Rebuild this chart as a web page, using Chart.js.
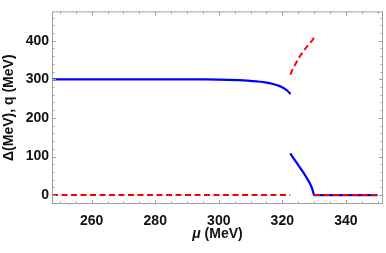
<!DOCTYPE html>
<html>
<head>
<meta charset="utf-8">
<script src="https://cdn.jsdelivr.net/npm/chart.js@4.4.1/dist/chart.umd.min.js"></script>
<style>
  html, body { margin: 0; padding: 0; background: #fff; }
  #wrap { width: 386px; height: 253px; }
</style>
</head>
<body>
<div id="wrap"><canvas id="chart" width="386" height="253"></canvas></div>
<script>
// gap Delta, upper branch
const deltaUpMu  = [247.5, 290, 295, 300, 303, 306, 309, 312, 315, 317, 319, 320.5, 321.5, 322.6];
const deltaUpVal = [300, 300, 299.8, 299.4, 298.8, 297.8, 296.5, 294.5, 291.5, 288, 283, 277, 271, 262];
// gap Delta, lower branch then zero
const deltaLoMu  = [322.5, 323.5, 324.5, 325.5, 326.5, 327.5, 328.5, 329.2, 329.6, 329.85, 330, 350];
const deltaLoVal = [108, 96, 84, 72, 60, 47, 33, 21, 11, 4, 0, 0];
// momentum q
const qZeroMu  = [247.5, 322.5];
const qZeroVal = [0, 0];
const qUpMu  = [322.5, 323.5, 324.5, 325.5, 326.5, 327.5, 328.5, 329.5, 330.1];
const qUpVal = [312, 330, 345, 359, 371, 382, 392, 402, 410];
const qEndMu  = [330, 350];
const qEndVal = [0, 0];

const xTicks = [260, 280, 300, 320, 340];
const yTicks = [0, 100, 200, 300, 400];

const BLUE = '#0000ff';
const RED = '#ff0000';
const FONT = '"Liberation Sans", Arial, sans-serif';

function pts(xs, ys) {
  return xs.map((x, i) => ({ x: x, y: ys[i] }));
}

const redLine = { borderColor: RED, borderWidth: 2, borderDash: [6, 3.5], pointRadius: 0, fill: false, cubicInterpolationMode: 'monotone' };
const blueLine = { borderColor: BLUE, borderWidth: 2.2, pointRadius: 0, fill: false, cubicInterpolationMode: 'monotone' };

// frame with inward ticks on all four sides, Mathematica style
const framePlugin = {
  id: 'frame',
  afterDatasetsDraw(chart) {
    const { ctx, chartArea: a, scales } = chart;
    const xs = scales.x, ys = scales.y;
    ctx.save();
    ctx.strokeStyle = '#a0a0a0';
    ctx.lineWidth = 1;
    ctx.strokeRect(a.left + 0.5, a.top + 0.5, a.right - a.left - 1, a.bottom - a.top - 1);
    ctx.beginPath();
    for (let v = 250; v <= 350; v += 5) {
      const px = Math.round(xs.getPixelForValue(v)) + 0.5;
      const len = v % 20 === 0 ? 4 : 2.5;
      ctx.moveTo(px, a.bottom); ctx.lineTo(px, a.bottom - len);
      ctx.moveTo(px, a.top); ctx.lineTo(px, a.top + len);
    }
    for (let v = -20; v <= 460; v += 20) {
      const py = Math.round(ys.getPixelForValue(v)) + 0.5;
      const len = v % 100 === 0 ? 4 : 2.5;
      ctx.moveTo(a.left, py); ctx.lineTo(a.left + len, py);
      ctx.moveTo(a.right, py); ctx.lineTo(a.right - len, py);
    }
    ctx.stroke();

    // axis titles
    ctx.fillStyle = '#111';
    ctx.textBaseline = 'middle';
    const cx = (a.left + a.right) / 2;
    ctx.font = 'italic bold 14px ' + FONT;
    const muW = ctx.measureText('\u03bc ').width;
    ctx.font = 'bold 14px ' + FONT;
    const restW = ctx.measureText('(MeV)').width;
    let x0 = cx - (muW + restW) / 2;
    ctx.textAlign = 'left';
    ctx.font = 'italic bold 14px ' + FONT;
    ctx.fillText('\u03bc ', x0, 234);
    ctx.font = 'bold 14px ' + FONT;
    ctx.fillText('(MeV)', x0 + muW, 234);

    ctx.translate(9, (a.top + a.bottom) / 2);
    ctx.rotate(-Math.PI / 2);
    ctx.textAlign = 'center';
    ctx.fillText('\u0394(MeV), q (MeV)', 0, 0);
    ctx.restore();
  }
};

new Chart(document.getElementById('chart'), {
  type: 'line',
  data: {
    datasets: [
      Object.assign({ data: pts(qEndMu, qEndVal) }, redLine),
      Object.assign({ data: pts(qZeroMu, qZeroVal) }, redLine),
      Object.assign({ data: pts(qUpMu, qUpVal) }, redLine),
      Object.assign({ data: pts(deltaUpMu, deltaUpVal) }, blueLine),
      Object.assign({ data: pts(deltaLoMu, deltaLoVal) }, blueLine)
    ]
  },
  options: {
    responsive: false,
    animation: false,
    events: [],
    layout: { padding: { top: 1, right: 3, left: 0, bottom: 0 } },
    plugins: { legend: { display: false }, tooltip: { enabled: false } },
    scales: {
      x: {
        type: 'linear',
        min: 247.5,
        max: 351.7,
        grid: { display: false, drawTicks: false },
        border: { display: false },
        afterBuildTicks: s => { s.ticks = xTicks.map(v => ({ value: v })); },
        afterFit: s => { s.height = 49; },
        ticks: { color: '#111', padding: 9, maxRotation: 0, font: { family: FONT, size: 14, weight: 'bold' } }
      },
      y: {
        type: 'linear',
        min: -23,
        max: 476,
        grid: { display: false, drawTicks: false },
        border: { display: false },
        afterBuildTicks: s => { s.ticks = yTicks.map(v => ({ value: v })); },
        afterFit: s => { s.width = 52; },
        ticks: { color: '#111', padding: 3, font: { family: FONT, size: 14, weight: 'bold' } }
      }
    }
  },
  plugins: [framePlugin]
});
</script>
</body>
</html>
